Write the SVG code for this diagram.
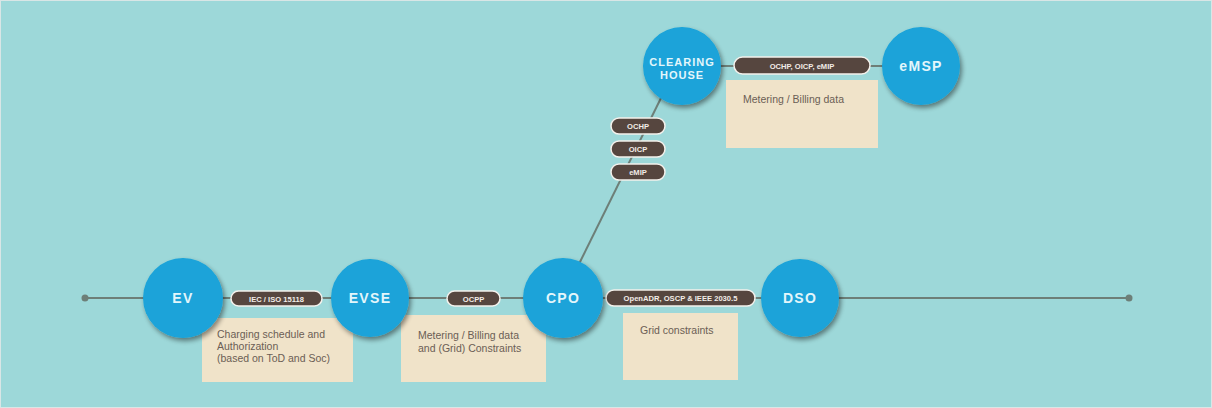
<svg xmlns="http://www.w3.org/2000/svg" width="1212" height="408" viewBox="0 0 1212 408">
  <style>
    .bg { fill: #9dd8d9; }
    .wire { stroke: #6d7f78; stroke-width: 2; fill: none; }
    .end { fill: #6d7f78; }
    .node circle { fill: #1aa3d9; }
    .node text { font-family: "Liberation Sans", Arial, sans-serif; font-weight: bold; font-size: 14px; fill: #e3f6fb; text-anchor: middle; letter-spacing: 1.3px; }
    .node text.small { font-size: 11px; letter-spacing: 1px; }
    .pill rect { fill: #56463f; stroke: #f4f1ec; stroke-width: 1.5; }
    .pill text { font-family: "Liberation Sans", Arial, sans-serif; font-weight: bold; font-size: 7.6px; fill: #f2ece8; text-anchor: middle; }
    .note rect { fill: #f0e3c9; }
    .note text { font-family: "Liberation Sans", Arial, sans-serif; font-size: 10.5px; fill: #6b5e55; }
  </style>
  <defs>
    <filter id="shadow" x="-30%" y="-30%" width="160%" height="160%">
      <feGaussianBlur in="SourceAlpha" stdDeviation="2.5"/>
      <feOffset dx="1.5" dy="2.5" result="b"/>
      <feComponentTransfer><feFuncA type="linear" slope="0.45"/></feComponentTransfer>
      <feMerge><feMergeNode/><feMergeNode in="SourceGraphic"/></feMerge>
    </filter>
  </defs>

  <rect class="bg" x="0" y="0" width="1212" height="408"/>
  <rect x="0.5" y="0.5" width="1211" height="407" fill="none" stroke="#d9e6e6" stroke-width="1"/>

  <!-- annotation boxes -->
  <g id="note-ev-evse" class="note">
    <rect x="202" y="318" width="151" height="64"/>
    <text x="217" y="338">Charging schedule and</text>
    <text x="217" y="350">Authorization</text>
    <text x="217" y="362">(based on ToD and Soc)</text>
  </g>
  <g id="note-evse-cpo" class="note">
    <rect x="401" y="315" width="145" height="67"/>
    <text x="418" y="339">Metering / Billing data</text>
    <text x="418" y="352">and (Grid) Constraints</text>
  </g>
  <g id="note-cpo-dso" class="note">
    <rect x="623" y="313" width="115" height="67"/>
    <text x="640" y="334">Grid constraints</text>
  </g>
  <g id="note-ch-emsp" class="note">
    <rect x="726" y="80" width="152" height="68"/>
    <text x="743" y="103">Metering / Billing data</text>
  </g>

  <!-- connectors -->
  <g id="connectors">
    <line class="wire" x1="85" y1="298" x2="1129" y2="298"/>
    <circle class="end" cx="85" cy="298" r="3.5"/>
    <circle class="end" cx="1129" cy="298" r="3.5"/>
    <line class="wire" x1="578" y1="266" x2="661" y2="98"/>
    <line class="wire" x1="700" y1="66" x2="900" y2="66"/>
  </g>

  <!-- protocol labels -->
  <g id="pill-15118" class="pill">
    <rect x="231" y="291" width="91" height="15" rx="7.5"/>
    <text x="276.5" y="301.5">IEC / ISO 15118</text>
  </g>
  <g id="pill-ocpp" class="pill">
    <rect x="447" y="291" width="53" height="15" rx="7.5"/>
    <text x="473.5" y="301.5">OCPP</text>
  </g>
  <g id="pill-openadr" class="pill">
    <rect x="606" y="290" width="149" height="16" rx="8"/>
    <text x="680.5" y="301">OpenADR, OSCP &amp; IEEE 2030.5</text>
  </g>
  <g id="pill-ch-emsp" class="pill">
    <rect x="734" y="57" width="136" height="17" rx="8.5"/>
    <text x="802" y="68.5">OCHP, OICP, eMIP</text>
  </g>
  <g id="pill-ochp" class="pill">
    <rect x="611" y="118" width="54" height="16" rx="8"/>
    <text x="638" y="129">OCHP</text>
  </g>
  <g id="pill-oicp" class="pill">
    <rect x="611" y="141" width="54" height="16" rx="8"/>
    <text x="638" y="152">OICP</text>
  </g>
  <g id="pill-emip" class="pill">
    <rect x="611" y="164" width="54" height="16" rx="8"/>
    <text x="638" y="175">eMIP</text>
  </g>

  <!-- actors -->
  <g id="node-ev" class="node">
    <circle cx="183" cy="298" r="40" filter="url(#shadow)"/>
    <text x="183" y="303">EV</text>
  </g>
  <g id="node-evse" class="node">
    <circle cx="370" cy="298" r="39" filter="url(#shadow)"/>
    <text x="370" y="303">EVSE</text>
  </g>
  <g id="node-cpo" class="node">
    <circle cx="563" cy="298" r="40" filter="url(#shadow)"/>
    <text x="563" y="303">CPO</text>
  </g>
  <g id="node-dso" class="node">
    <circle cx="800" cy="298" r="39" filter="url(#shadow)"/>
    <text x="800" y="303">DSO</text>
  </g>
  <g id="node-clearing-house" class="node">
    <circle cx="682" cy="66" r="39" filter="url(#shadow)"/>
    <text class="small" x="682" y="66">CLEARING</text>
    <text class="small" x="682" y="79">HOUSE</text>
  </g>
  <g id="node-emsp" class="node">
    <circle cx="921" cy="66" r="39" filter="url(#shadow)"/>
    <text x="921" y="71">eMSP</text>
  </g>
</svg>
